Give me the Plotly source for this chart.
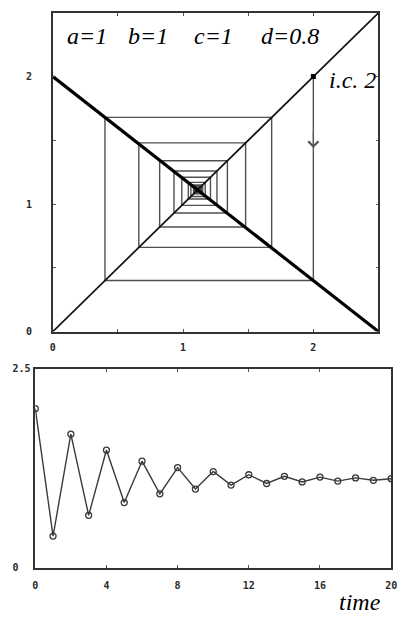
import plotly.graph_objects as go

# Map parameters shown in the header
params = ["a=1", "b=1", "c=1", "d=0.8"]
ic_label = "i.c. 2"

# Iterates x_t of the linear map starting from the initial condition 2
time_steps = list(range(21))
x_series = [2.00, 0.40, 1.68, 0.66, 1.48, 0.82, 1.34, 0.93, 1.26, 0.99, 1.21,
            1.04, 1.17, 1.06, 1.15, 1.08, 1.14, 1.09, 1.13, 1.10, 1.12]

# Map line f(x) and the identity line for the cobweb panel
map_x = [0.0, 2.5]
map_y = [2.0, 0.0]
diag_x = [0.0, 2.5]
diag_y = [0.0, 2.5]

# Cobweb path: vertical to the map line, horizontal to the diagonal
cob_x, cob_y = [x_series[0]], [x_series[0]]
for cur, nxt in zip(x_series[:-1], x_series[1:]):
    cob_x += [cur, nxt]
    cob_y += [nxt, nxt]

W, H = 405, 619
tick_font = dict(family="DejaVu Sans Mono", size=10, color="#2a2a2a", weight="bold")
frame = dict(showline=True, linecolor="#333333", linewidth=1.5, mirror="ticks",
             ticks="inside", ticklen=3, tickcolor="#555555", tickwidth=1,
             showgrid=False, zeroline=False, tickfont=tick_font, fixedrange=True)

fig = go.Figure()

fig.add_trace(go.Scatter(x=cob_x, y=cob_y, mode="lines",
                         line=dict(color="#505050", width=1.4),
                         xaxis="x", yaxis="y", hoverinfo="skip"))
fig.add_trace(go.Scatter(x=diag_x, y=diag_y, mode="lines",
                         line=dict(color="#111111", width=1.7),
                         xaxis="x", yaxis="y"))
fig.add_trace(go.Scatter(x=map_x, y=map_y, mode="lines",
                         line=dict(color="#000000", width=3.2),
                         xaxis="x", yaxis="y"))
fig.add_trace(go.Scatter(x=[x_series[0]], y=[x_series[0]], mode="markers",
                         marker=dict(symbol="square", size=5, color="#000000"),
                         xaxis="x", yaxis="y"))

fig.add_trace(go.Scatter(x=time_steps, y=x_series, mode="lines+markers",
                         line=dict(color="#3a3a3a", width=1.4),
                         marker=dict(symbol="circle-open", size=6,
                                     color="#3a3a3a", line=dict(width=1.3)),
                         xaxis="x2", yaxis="y2"))

top_dom_x = [51 / W, 384 / W]
top_dom_y = [1 - 332 / H, 1 - 7 / H]
bot_dom_x = [33 / W, 397 / W]
bot_dom_y = [1 - 573 / H, 1 - 370 / H]

cob_ticks = [0, 0.5, 1, 1.5, 2, 2.5]
cob_text = ["0", "", "1", "", "2", ""]

fig.update_layout(
    width=W, height=H,
    margin=dict(l=0, r=0, t=0, b=0),
    paper_bgcolor="white", plot_bgcolor="white",
    showlegend=False,
    xaxis=dict(domain=top_dom_x, range=[0, 2.5], anchor="y",
               tickvals=cob_ticks, ticktext=cob_text, ticklabelstandoff=6, **frame),
    yaxis=dict(domain=top_dom_y, range=[0, 2.5], anchor="x",
               tickvals=cob_ticks, ticktext=cob_text, ticklabelstandoff=17, **frame),
    xaxis2=dict(domain=bot_dom_x, range=[0, 20], anchor="y2",
                tickvals=[0, 4, 8, 12, 16, 20], ticktext=["0", "4", "8", "12", "16", "20"],
                ticklabelstandoff=7, **frame),
    yaxis2=dict(domain=bot_dom_y, range=[0, 2.5], anchor="x2",
                tickvals=[0, 2.5], ticktext=["0\u00a0\u00a0", "2.5"],
                ticklabelstandoff=1, **frame),
)
fig.update_yaxes(selector=dict(anchor="x2"), ticklen=0)

serif_it = dict(family="Liberation Serif", size=24, color="#000000")
param_x = [0.26, 0.73, 1.23, 1.82]
for txt, px in zip(params, param_x):
    fig.add_annotation(x=px, y=2.315, xref="x", yref="y", text=f"<i>{txt}</i>",
                       showarrow=False, font=serif_it,
                       xanchor="center", yanchor="middle")

fig.add_annotation(x=x_series[0] + 0.30, y=x_series[0] - 0.03, xref="x", yref="y",
                   text=f"<i>{ic_label}</i>", showarrow=False, font=serif_it,
                   xanchor="center", yanchor="middle")

# Direction arrow on the first step of the cobweb
arrow_y = x_series[0] - 0.35 * (x_series[0] - x_series[1])
fig.add_annotation(x=x_series[0], y=arrow_y, xref="x", yref="y", ax=0, ay=-18,
                   text="", showarrow=True, arrowhead=4, arrowsize=1.8,
                   arrowwidth=1.1, arrowcolor="#555555")

fig.add_annotation(x=365 / W, y=1 - 608 / H, xref="paper", yref="paper",
                   text="<i>time</i>", showarrow=False, font=serif_it,
                   xanchor="center", yanchor="middle")

fig.write_html("out.html")
